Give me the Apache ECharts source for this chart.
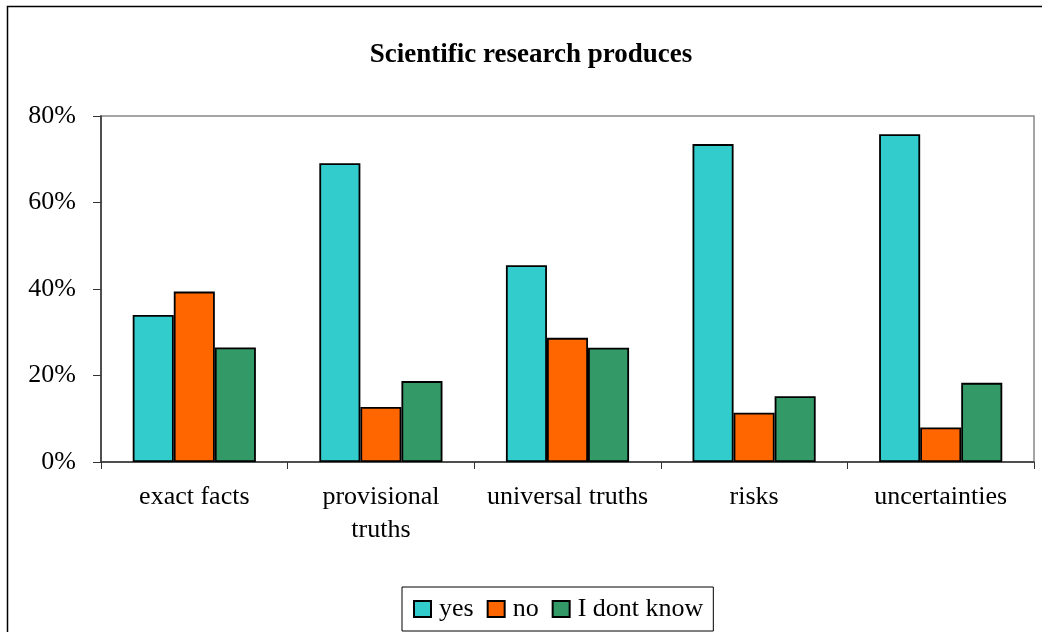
<!DOCTYPE html>
<html>
<head>
  <meta charset="UTF-8">
  <title>Scientific research produces</title>
  <script src="https://cdn.jsdelivr.net/npm/echarts@6/dist/echarts.min.js"></script>
  <style>
    html, body { margin: 0; padding: 0; background: #fff; }
  </style>
</head>
<body>
<div id="main" style="width:1042px;height:632px;"></div>
<script>
  // data
  let categories = ['exact facts', 'provisional\ntruths', 'universal truths', 'risks', 'uncertainties'];
  let yesValues = [34.0, 69.1, 45.5, 73.5, 75.8];
  let noValues = [39.4, 12.7, 28.7, 11.4, 8.0];
  let dontKnowValues = [26.5, 18.7, 26.4, 15.2, 18.3];

  let font = '"Liberation Serif", "DejaVu Serif", serif';
  let myChart = echarts.init(document.getElementById('main'), null, {renderer: 'canvas'});

  function bar(name, color, data) {
    return {
      name: name,
      type: 'bar',
      barGap: '0%',
      barCategoryGap: '34%',
      itemStyle: {color: color, borderColor: '#000', borderWidth: 1.8},
      data: data,
    };
  }

  let option = {
    backgroundColor: '#fff',
    animation: false,
    title: {
      text: 'Scientific research produces',
      left: 526,
      textAlign: 'center',
      top: 37,
      textStyle: {fontFamily: font, fontSize: 27, fontWeight: 'bold', color: '#000'},
    },
    graphic: [{
      type: 'rect',
      shape: {x: 7.5, y: 6.5, width: 1100, height: 700},
      style: {fill: null, stroke: '#000', lineWidth: 1.5},
    }],
    grid: {
      left: 101, right: 8, top: 116, bottom: 170,
      show: true, borderColor: '#888', borderWidth: 1.5, backgroundColor: 'transparent',
    },
    legend: {
      left: 402, top: 587,
      padding: [9, 10, 9, 11],
      borderColor: '#000', borderWidth: 1,
      icon: 'rect',
      itemWidth: 17, itemHeight: 16, itemGap: 13,
      textStyle: {fontFamily: font, fontSize: 26, color: '#000', padding: [0, 0, 0, 3]},
      data: ['yes', 'no', 'I dont know'],
    },
    xAxis: {
      type: 'category',
      data: categories,
      axisLine: {lineStyle: {color: '#333', width: 1.5}},
      axisTick: {show: true, length: 7, lineStyle: {color: '#333'}},
      axisLabel: {interval: 0, fontFamily: font, fontSize: 26, color: '#000', margin: 19, lineHeight: 33},
    },
    yAxis: {
      type: 'value',
      min: 0, max: 80, interval: 20,
      axisLine: {show: true, lineStyle: {color: '#333', width: 1.5}},
      axisTick: {show: true, length: 8, lineStyle: {color: '#333'}},
      splitLine: {show: false},
      axisLabel: {fontFamily: font, fontSize: 26, color: '#000', margin: 25, formatter: '{value}%'},
    },
    series: [
      bar('yes', '#33CCCC', yesValues),
      bar('no', '#FF6600', noValues),
      bar('I dont know', '#339966', dontKnowValues),
    ],
  };

  myChart.setOption(option);
</script>
</body>
</html>
